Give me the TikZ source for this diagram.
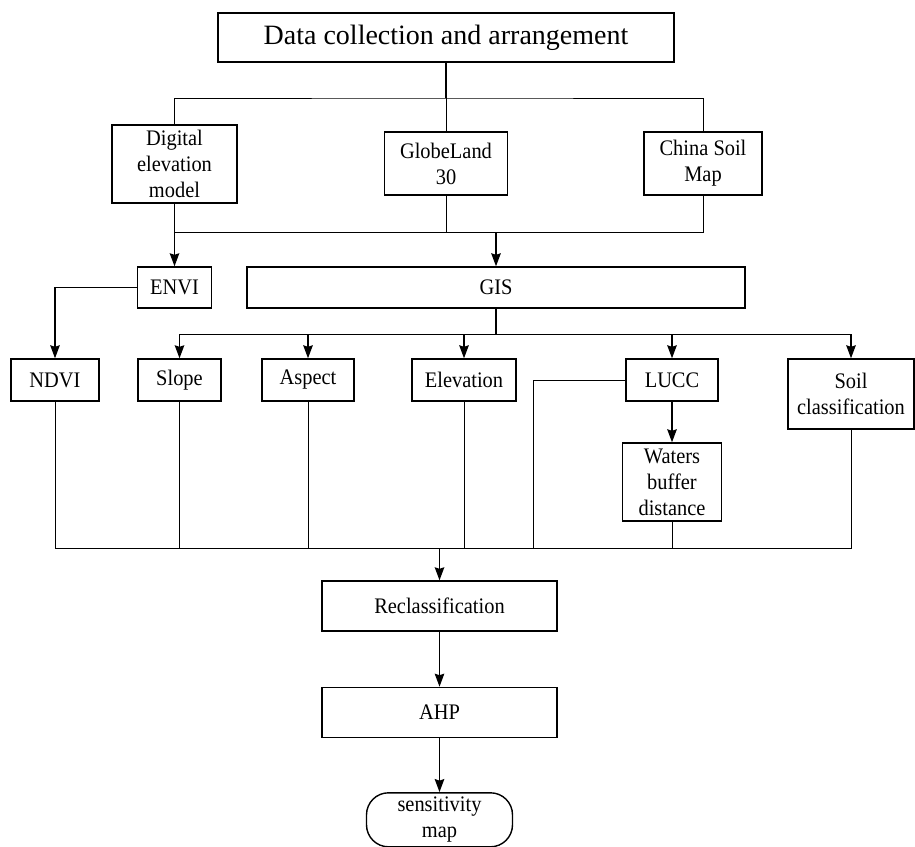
\documentclass[tikz,border=0pt]{standalone}
\usepackage{fontspec}
\setmainfont{Liberation Serif}
\newfontfamily\boxfont{Liberation Serif}[FakeStretch=0.92]
\usetikzlibrary{positioning,arrows.meta,calc}

\tikzset{
  box/.style={draw, line width=1.4pt, align=center, inner sep=2pt,
    font=\boxfont\fontsize{22.2}{26}\selectfont},
  link/.style={line width=1pt},
  arr/.style={line width=1.6pt, -{Stealth[length=13pt,width=9.5pt,inset=1.5pt]}},
}

\begin{document}
\begin{tikzpicture}[x=1pt,y=-1pt]
      \useasboundingbox (0,0) rectangle (915,846);
      \node[box, minimum width=456pt, minimum height=49pt,
        font=\fontsize{28}{34}\selectfont] (data) at (446,37.5) {Data collection and arrangement};
      \node[box, minimum width=125pt, minimum height=78pt] (dem) at (174.5,164) {Digital\\elevation\\model};
      \node[box, minimum width=123pt, minimum height=63pt] (globe) at (446,163.5) {GlobeLand\\30};
      \node[box, minimum width=118pt, minimum height=63pt] (china) at (703,163.5) {China Soil\\Map};
      %
      \node[box, minimum width=74pt, minimum height=41pt] (envi) at (174.5,287.5) {ENVI};
      \node[box, minimum width=498pt, minimum height=41pt] (gis) at (496,287.5) {GIS};
      %
      \node[box, minimum width=88pt, minimum height=42pt] (ndvi) at (55,380) {NDVI};
      \node[box, minimum width=83pt, minimum height=42pt] (slope) at (179.5,380) {Slope};
      \node[box, minimum width=92pt, minimum height=42pt] (aspect) at (308,380) {Aspect};
      \node[box, minimum width=104pt, minimum height=42pt] (elev) at (464,380) {Elevation};
      \node[box, minimum width=92pt, minimum height=42pt] (lucc) at (672,380) {LUCC};
      \node[box, minimum width=126pt, minimum height=70pt] (soil) at (851,394) {Soil\\classification};
      \node[box, minimum width=99pt, minimum height=78pt] (waters) at (672,482) {Waters\\buffer\\distance};
      %
      \node[box, minimum width=235pt, minimum height=50pt] (recl) at (439.5,606) {Reclassification};
      \node[box, minimum width=235pt, minimum height=50pt, below=55pt of recl] (ahp) {AHP};
      \node[box, minimum width=146pt, minimum height=54pt, rounded corners=22pt,
        below=54pt of ahp] (smap) {sensitivity\\map};
      %
      \coordinate (top) at (446,98);
      \coordinate (mid) at (496,232);
      \coordinate (gisj) at (496,334);
      \coordinate (bot) at (439.5,548);
      \coordinate (lbend) at (533,548);
      %
      \draw[link, line width=1.8pt] (data.south) -- (top);
      \draw[link] (dem.north) |- (top) -| (china.north);
      \draw[link] (globe.north) -- (globe.north |- top);
      %
      \draw[arr] (dem.south) -- (envi.north);
      \draw[link] (globe.south) -- (globe.south |- mid);
      \draw[link] (china.south) |- (dem.south |- mid);
      \draw[arr] (mid) -- (gis.north);
      %
      \draw[arr] (envi.west) -| (ndvi.north);
      \draw[link, line width=1.6pt] (gis.south) -- (gisj);
      \draw[link] (slope.north |- gisj) -- (soil.north |- gisj);
      \draw[arr] (slope.north |- gisj) -- (slope.north);
      \draw[arr] (aspect.north |- gisj) -- (aspect.north);
      \draw[arr] (elev.north |- gisj) -- (elev.north);
      \draw[arr] (lucc.north |- gisj) -- (lucc.north);
      \draw[arr] (soil.north |- gisj) -- (soil.north);
      \draw[arr] (lucc) -- (waters);
      %
      \draw[link] (ndvi.south) |- (soil.south |- bot) -- (soil.south);
      \draw[link] (slope.south) -- (slope.south |- bot);
      \draw[link] (aspect.south) -- (aspect.south |- bot);
      \draw[link] (elev.south) -- (elev.south |- bot);
      \draw[link] (waters.south) -- (waters.south |- bot);
      \draw[link] (lucc.west) -| (lbend);
      %
      \draw[arr] (bot) -- (recl.north);
      \draw[arr] (recl) -- (ahp);
      \draw[arr] (ahp) -- (smap);
    \end{tikzpicture}
\end{document}
